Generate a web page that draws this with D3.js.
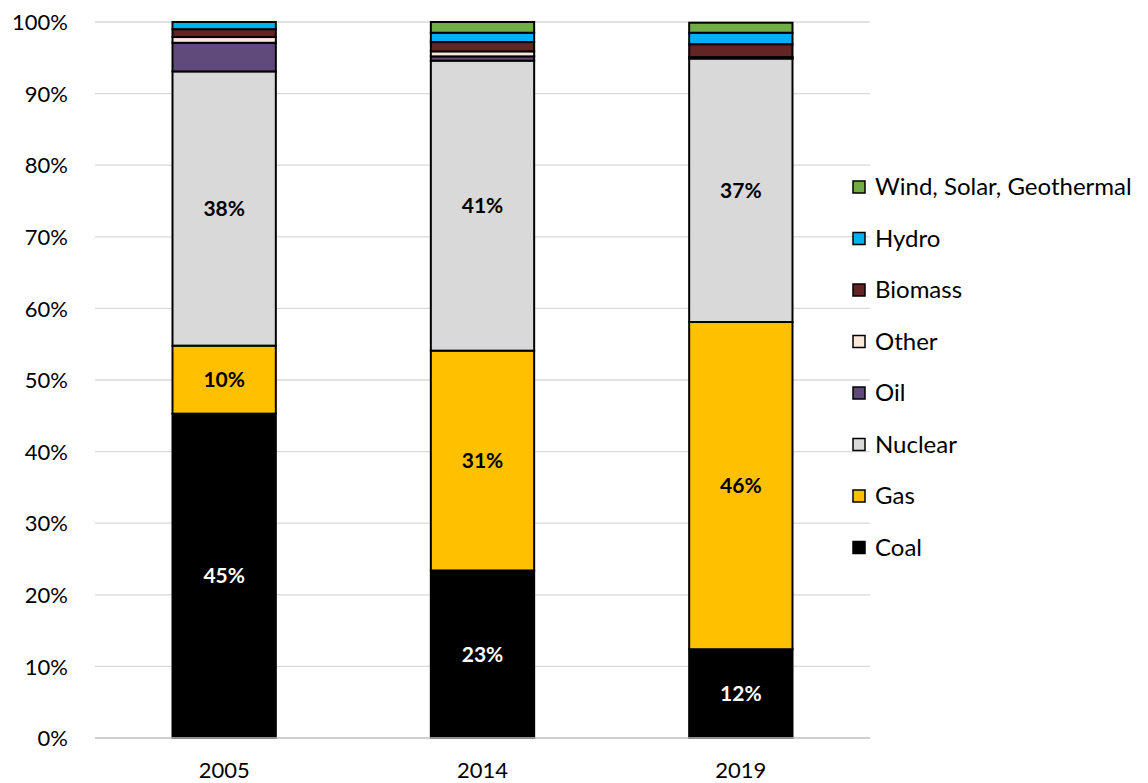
<!DOCTYPE html>
<html><head><meta charset="utf-8">
<script src="https://cdn.jsdelivr.net/npm/d3@7"></script>
<style>body{margin:0;background:#fff;} svg{display:block;font-family:Lato, "Open Sans", sans-serif;}</style>
</head><body>
<svg id="c" width="1148" height="783"></svg>
<script>
const years = ["2005", "2014", "2019"];
const series = ["Coal", "Gas", "Nuclear", "Oil", "Other", "Biomass", "Hydro", "Wind, Solar, Geothermal"];
const colors = ["#000000", "#ffc000", "#d9d9d9", "#604a7b", "#fde9d9", "#632523", "#00b0f0", "#70ad47"];
const coal    = [45.3, 23.4, 12.4];
const gas     = [9.5, 30.7, 45.7];
const nuclear = [38.3, 40.5, 36.8];
const oil     = [4.0, 0.6, 0.1];
const other   = [0.8, 0.7, 0.1];
const biomass = [1.1, 1.3, 1.8];
const hydro   = [1.0, 1.3, 1.6];
const wind    = [0.0, 1.5, 1.4];
const yTicks = [0, 10, 20, 30, 40, 50, 60, 70, 80, 90, 100];
const labelled = ["Coal", "Gas", "Nuclear"];
const labelColors = {"Coal": "#ffffff", "Gas": "#000000", "Nuclear": "#000000"};

const values = [coal, gas, nuclear, oil, other, biomass, hydro, wind];
const rows = years.map((y, i) => {
  const r = {year: y};
  series.forEach((s, k) => r[s] = values[k][i]);
  return r;
});

const svg = d3.select("#c");
const x = d3.scaleBand().domain(years).range([95, 870]).paddingInner(0.6).paddingOuter(0.3);
const y = d3.scaleLinear().domain([0, 100]).range([738, 22]);
const color = d3.scaleOrdinal().domain(series).range(colors);

// gridlines
svg.append("g").selectAll("line").data(yTicks.filter(t => t > 0)).join("line")
  .attr("x1", 95).attr("x2", 870)
  .attr("y1", d => y(d)).attr("y2", d => y(d))
  .attr("stroke", "#d9d9d9").attr("stroke-width", 1.3);

// y axis labels
const yAxis = d3.axisLeft(y).tickValues(yTicks).tickFormat(d => d + "%").tickSize(0).tickPadding(0);
const ya = svg.append("g").attr("transform", "translate(68,0)").call(yAxis);
ya.select(".domain").remove();
ya.selectAll("text").attr("font-size", 22).attr("fill", "#000").attr("font-family", "Lato, sans-serif").attr("dy", "0.35em");

const stack = d3.stack().keys(series)(rows);

const g = svg.append("g");
stack.forEach(layer => {
  g.append("g").selectAll("rect").data(layer).join("rect")
    .attr("x", d => x(d.data.year))
    .attr("width", x.bandwidth())
    .attr("y", d => y(d[1]))
    .attr("height", d => Math.max(0, y(d[0]) - y(d[1])))
    .attr("fill", color(layer.key))
    .attr("stroke", "#000").attr("stroke-width", 2);
});

// baseline
const xAxis = d3.axisBottom(x).tickSize(0).tickPadding(24);
const xa = svg.append("g").attr("transform", "translate(0,738)").call(xAxis);
xa.select(".domain").attr("stroke", "#bfbfbf").attr("stroke-width", 1.3).attr("d", "M95,0H870");
xa.selectAll("text").attr("font-size", 22).attr("fill", "#000").attr("font-family", "Lato, sans-serif");

// value labels
stack.filter(l => labelled.includes(l.key)).forEach(layer => {
  g.append("g").selectAll("text").data(layer).join("text")
    .attr("x", d => x(d.data.year) + x.bandwidth() / 2)
    .attr("y", d => y((d[0] + d[1]) / 2))
    .attr("dy", "0.35em")
    .attr("text-anchor", "middle")
    .attr("font-size", 21).attr("font-weight", "bold")
    .attr("fill", labelColors[layer.key])
    .text(d => Math.round(d[1] - d[0]) + "%");
});

// legend
const legendOrder = series.slice().reverse();
const lg = svg.append("g").selectAll("g").data(legendOrder).join("g")
  .attr("transform", (d, i) => `translate(853,${187 + i * 51.5})`);
lg.append("rect").attr("x", 0).attr("y", -6).attr("width", 12).attr("height", 12)
  .attr("fill", d => color(d)).attr("stroke", "#000").attr("stroke-width", 1.5);
lg.append("text").attr("x", 22).attr("y", 0).attr("dy", "0.35em")
  .attr("font-size", 24).attr("fill", "#000").text(d => d);
</script>
</body></html>
